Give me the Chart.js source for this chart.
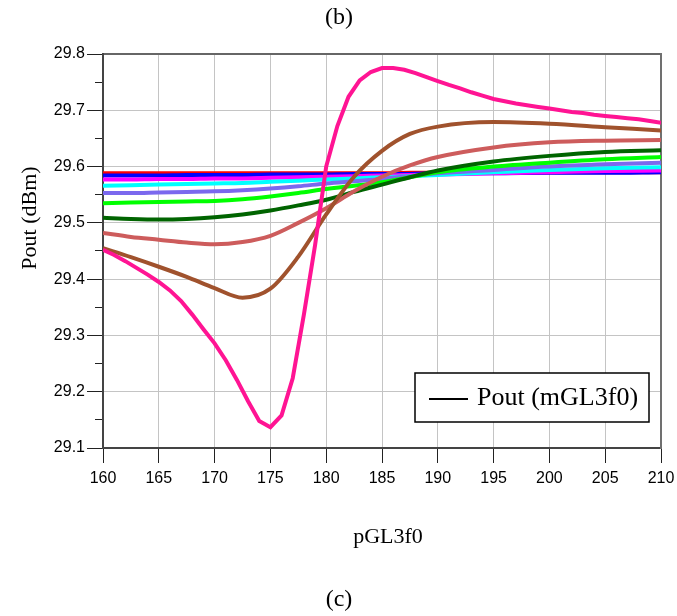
<!DOCTYPE html>
<html><head><meta charset="utf-8">
<script src="https://cdn.jsdelivr.net/npm/chart.js@4.4.1/dist/chart.umd.min.js"></script>
<style>html,body{margin:0;padding:0;background:#fff;}#wrap{position:relative;width:677px;height:616px;}</style>
</head><body><div id="wrap"><canvas id="c" width="677" height="616"></canvas></div>
<script>
// x samples
const xFine = [160,161,162,163,164,165,166,167,168,169,170,171,172,173,174,175,176,177,178,179,180,181,182,183,184,185,186,187,188,189,190,191,192,193,194,195,196,197,198,199,200,201,202,203,204,205,206,207,208,209,210];
const xCoarse = [160,162.5,165,167.5,170,172.5,175,177.5,180,182.5,185,187.5,190,195,200,205,210];
// series values (Pout, dBm)
const deepPink = [29.452,29.443,29.432,29.420,29.408,29.395,29.380,29.361,29.337,29.311,29.286,29.256,29.221,29.183,29.148,29.137,29.158,29.224,29.337,29.460,29.600,29.672,29.724,29.753,29.768,29.775,29.775,29.772,29.766,29.759,29.752,29.745,29.739,29.732,29.726,29.720,29.716,29.712,29.709,29.706,29.703,29.700,29.697,29.695,29.692,29.690,29.688,29.686,29.684,29.681,29.678];
const sienna    = [29.455,29.439,29.422,29.404,29.384,29.367,29.383,29.440,29.515,29.582,29.628,29.658,29.671,29.679,29.676,29.670,29.664];
const indianRed = [29.482,29.475,29.470,29.465,29.462,29.466,29.477,29.500,29.526,29.556,29.582,29.602,29.617,29.634,29.643,29.646,29.647];
const darkGreen = [29.509,29.507,29.506,29.507,29.510,29.515,29.522,29.531,29.541,29.555,29.568,29.581,29.593,29.609,29.619,29.626,29.629];
const lime      = [29.535,29.536,29.537,29.538,29.539,29.542,29.547,29.553,29.560,29.566,29.572,29.581,29.590,29.600,29.607,29.613,29.617];
const slate     = [29.553,29.553,29.554,29.555,29.556,29.558,29.561,29.565,29.570,29.574,29.578,29.583,29.588,29.594,29.600,29.604,29.607];
const cyan      = [29.566,29.567,29.568,29.569,29.570,29.571,29.573,29.575,29.577,29.579,29.581,29.583,29.585,29.590,29.594,29.597,29.599];
const magenta   = [29.577,29.577,29.578,29.578,29.579,29.579,29.580,29.581,29.582,29.583,29.584,29.585,29.586,29.588,29.590,29.592,29.593];
const blue      = [29.584,29.584,29.584,29.585,29.585,29.585,29.586,29.586,29.586,29.587,29.587,29.587,29.588,29.588,29.589,29.589,29.590];
const red       = [29.588,29.588,29.588,29.588,29.588,29.588,29.588,29.588,29.588,29.588,29.588,29.589,29.589,29.589,29.590,29.590,29.590];
// axis ticks
const xTickStep = 5, xMin = 160, xMax = 210;
const yTickStep = 0.1, yMinorStep = 0.05, yMin = 29.1, yMax = 29.8;

const pts = (xs, ys) => xs.map((x, i) => ({x, y: ys[i]}));
const ds = (xs, ys, color, smooth) => ({
  data: pts(xs, ys), borderColor: color, backgroundColor: color, borderWidth: 4,
  pointRadius: 0, fill: false, tension: smooth ? 0.4 : 0,
  cubicInterpolationMode: smooth ? 'monotone' : 'default'
});

const serif = "'Liberation Serif','Times New Roman',serif";
const sans = "'Liberation Sans',Arial,sans-serif";
const noPad = s => { s.paddingLeft = 0; s.paddingRight = 0; s.paddingTop = 0; s.paddingBottom = 0; };

const textPlugin = {
  id: 'texts',
  afterDraw(chart) {
    const ctx = chart.ctx, a = chart.chartArea;
    ctx.save();
    ctx.fillStyle = '#000';
    ctx.textAlign = 'center';
    ctx.textBaseline = 'middle';
    ctx.font = '24px ' + serif;
    ctx.fillText('(b)', 339, 18);
    ctx.fillText('(c)', 339, 600);
    ctx.font = '22px ' + serif;
    ctx.fillText('pGL3f0', 388, 537);
    ctx.save();
    ctx.translate(30, 218);
    ctx.rotate(-Math.PI / 2);
    ctx.fillText('Pout (dBm)', 0, 0);
    ctx.restore();
    // legend box
    const bw = 234, bh = 49;
    const bx = a.right - 12 - bw, by = a.bottom - 26 - bh;
    ctx.fillStyle = '#fff';
    ctx.fillRect(bx, by, bw, bh);
    ctx.strokeStyle = '#000';
    ctx.lineWidth = 1.5;
    ctx.strokeRect(bx, by, bw, bh);
    ctx.lineWidth = 2;
    ctx.beginPath();
    ctx.moveTo(bx + 14, by + 26);
    ctx.lineTo(bx + 53, by + 26);
    ctx.stroke();
    ctx.fillStyle = '#000';
    ctx.textAlign = 'left';
    ctx.font = '26px ' + serif;
    ctx.fillText('Pout (mGL3f0)', bx + 62, by + 25);
    ctx.restore();
  }
};

new Chart(document.getElementById('c'), {
  type: 'line',
  data: {
    datasets: [
      ds(xFine, deepPink, '#FF1493', false),
      ds(xCoarse, sienna, '#A0522D', true),
      ds(xCoarse, indianRed, '#CD5C5C', true),
      ds(xCoarse, darkGreen, '#006400', true),
      ds(xCoarse, lime, '#00FF00', true),
      ds(xCoarse, slate, '#7B68EE', true),
      ds(xCoarse, cyan, '#00FFFF', true),
      ds(xCoarse, magenta, '#FF00FF', true),
      ds(xCoarse, blue, '#0000FF', true),
      ds(xCoarse, red, '#FF0000', true)
    ]
  },
  options: {
    responsive: false, animation: false, devicePixelRatio: 1,
    layout: {padding: {left: 0, right: 16, top: 54, bottom: 0}},
    plugins: {legend: {display: false}, tooltip: {enabled: false}},
    scales: {
      x: {
        type: 'linear', position: 'bottom', min: xMin, max: xMax,
        ticks: {stepSize: xTickStep, color: '#000', font: {family: sans, size: 16}, padding: 6, maxRotation: 0, autoSkip: false},
        grid: {color: '#c4c4c4', lineWidth: 1, tickLength: 15, tickColor: '#222', tickWidth: 1},
        border: {color: '#444', width: 2},
        afterFit(s) { s.height = 168; noPad(s); }
      },
      x2: {
        type: 'linear', position: 'top', min: xMin, max: xMax,
        ticks: {display: false}, grid: {drawOnChartArea: false, drawTicks: false},
        border: {color: '#666', width: 2},
        afterFit(s) { s.height = 0; noPad(s); }
      },
      y: {
        type: 'linear', position: 'left', min: yMin, max: yMax, weight: 1,
        ticks: {stepSize: yTickStep, color: '#000', font: {family: sans, size: 16}, padding: 2,
          callback: v => Number(v).toFixed(1)},
        grid: {color: '#c4c4c4', lineWidth: 1, tickLength: 16, tickColor: '#222', tickWidth: 1},
        border: {color: '#444', width: 2},
        afterFit(s) { s.width = 103; noPad(s); }
      },
      yMinor: {
        type: 'linear', position: 'left', min: yMin, max: yMax, weight: 0,
        ticks: {stepSize: yMinorStep, display: false},
        grid: {drawOnChartArea: false, tickLength: 8, tickColor: '#222', tickWidth: 1},
        border: {display: false},
        afterFit(s) { s.width = 0; noPad(s); }
      },
      y2: {
        type: 'linear', position: 'right', min: yMin, max: yMax,
        ticks: {display: false}, grid: {drawOnChartArea: false, drawTicks: false},
        border: {color: '#707070', width: 2},
        afterFit(s) { s.width = 0; noPad(s); }
      }
    }
  },
  plugins: [textPlugin]
});
</script></body></html>
